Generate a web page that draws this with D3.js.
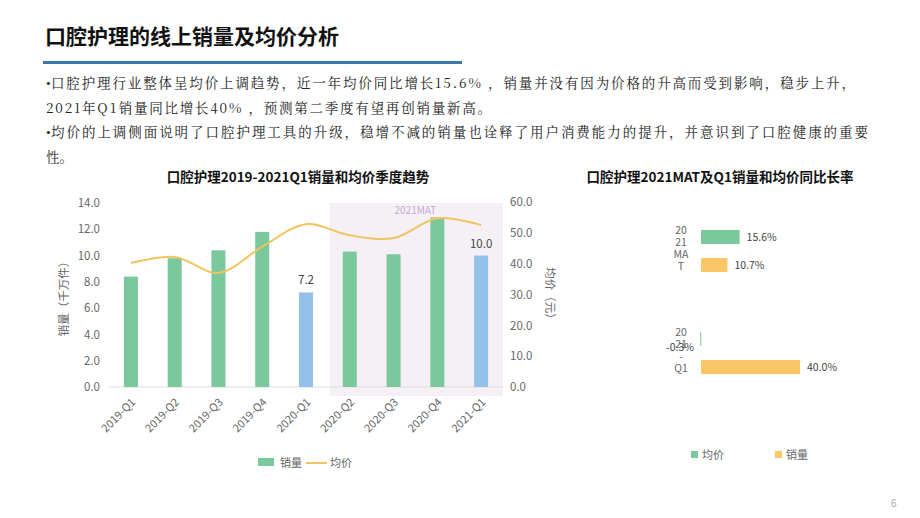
<!DOCTYPE html>
<html><head><meta charset="utf-8">
<script src="https://cdn.jsdelivr.net/npm/d3@7"></script>
<style>body{margin:0;background:#fff;font-family:"Noto Sans CJK SC",sans-serif;}</style>
</head><body><div id="container"></div>
<script>
/* DATA */
const quarters = ["2019-Q1","2019-Q2","2019-Q3","2019-Q4","2020-Q1","2020-Q2","2020-Q3","2020-Q4","2021-Q1"];
const sales = [8.4, 9.8, 10.4, 11.8, 7.2, 10.3, 10.1, 12.9, 10.0];
const price = [40.2, 42.2, 37.0, 45.5, 52.8, 49.2, 48.3, 54.7, 52.5];
const highlighted = ["2020-Q1","2021-Q1"];
const salesTicks = [0, 2, 4, 6, 8, 10, 12, 14];
const priceTicks = [0, 10, 20, 30, 40, 50, 60];
const rateCats = [["20","21","MA","T"], ["20","21","-","Q1"]];
const ratePrice = [15.6, -0.3];
const rateSales = [10.7, 40.0];
const bullets = [
  ["口腔护理行业整体呈均价上调趋势，近一年均价同比增长15.6% ，销量并没有因为价格的升高而受到影响，稳步上升，",
   "2021年Q1销量同比增长40% ，预测第二季度有望再创销量新高。"],
  ["均价的上调侧面说明了口腔护理工具的升级，稳增不减的销量也诠释了用户消费能力的提升，并意识到了口腔健康的重要",
   "性。"]
];
const bulletWidths = [[804, 445], [817, null]];

const width = 920, height = 518;
const green = "#7ac89b", blue = "#94c1ea", orange = "#fbc766", lineCol = "#f2c45e", grey = "#666";

const svg = d3.select("#container").append("svg").attr("width", width).attr("height", height);

// HEADER
svg.append("text").attr("x", 45).attr("y", 44).attr("font-size", 21).attr("font-weight", "bold")
  .attr("fill", "#111").text("口腔护理的线上销量及均价分析");
svg.append("rect").attr("x", 43).attr("y", 61).attr("width", 419).attr("height", 3).attr("fill", "#3d77a8");
let ly = 88;
bullets.forEach((b, bi) => {
  b.forEach((line, i) => {
    if (i === 0) svg.append("text").attr("x", 46).attr("y", ly).attr("font-size", 13.5).attr("fill", "#222")
      .attr("font-family", "'Liberation Serif',serif").text("•");
    const t = svg.append("text").attr("x", i === 0 ? 51 : 46).attr("y", ly).attr("font-size", 13.5).attr("fill", "#222")
      .attr("font-family", "'Noto Serif CJK SC','Noto Sans CJK SC',serif").text(line);
    if (bulletWidths[bi][i]) t.attr("textLength", bulletWidths[bi][i]).attr("lengthAdjust", "spacing");
    ly += 24.5;
  });
});
svg.append("text").attr("x", 891).attr("y", 507).attr("font-size", 10).attr("fill", "#aaa").text("6");

// LEFT CHART
svg.append("text").attr("x", 298).attr("y", 182).attr("text-anchor", "middle").attr("font-size", 13.5)
  .attr("font-weight", "bold").attr("fill", "#111").text("口腔护理2019-2021Q1销量和均价季度趋势");

const x = d3.scaleBand().domain(quarters).range([109, 503]).paddingInner(0.68).paddingOuter(0.34);
const yL = d3.scaleLinear().domain([0, 14]).range([387, 203]);
const yR = d3.scaleLinear().domain([0, 60]).range([387, 202]);

// MAT shade
svg.append("rect").attr("x", x("2020-Q2") - 13).attr("y", 203)
  .attr("width", x("2021-Q1") + x.bandwidth() + 15 - (x("2020-Q2") - 13)).attr("height", 193)
  .attr("fill", "#f4f0f6");
svg.append("text").attr("x", (x("2020-Q2") + x("2021-Q1") + x.bandwidth()) / 2).attr("y", 214)
  .attr("text-anchor", "middle").attr("font-size", 10).attr("fill", "#c9a9d3").text("2021MAT");

svg.append("line").attr("x1", 109).attr("x2", 503).attr("y1", yL(0)).attr("y2", yL(0)).attr("stroke", "#ddd");

svg.selectAll(".bar").data(quarters).join("rect")
  .attr("x", d => x(d)).attr("width", x.bandwidth())
  .attr("y", (d, i) => yL(sales[i])).attr("height", (d, i) => yL(0) - yL(sales[i]))
  .attr("fill", d => highlighted.includes(d) ? blue : green);

svg.selectAll(".lbl").data(quarters.filter(d => highlighted.includes(d))).join("text")
  .attr("x", d => x(d) + x.bandwidth() / 2).attr("y", d => yL(sales[quarters.indexOf(d)]) - 8)
  .attr("text-anchor", "middle").attr("font-size", 11.5).attr("fill", "#444")
  .text(d => sales[quarters.indexOf(d)].toFixed(1));

const lineGen = d3.line().curve(d3.curveCatmullRom)
  .x((d, i) => x(quarters[i]) + x.bandwidth() / 2).y(d => yR(d));
svg.append("path").attr("d", lineGen(price)).attr("fill", "none").attr("stroke", lineCol).attr("stroke-width", 2);

const axL = svg.append("g").attr("transform", "translate(104,0)")
  .call(d3.axisLeft(yL).tickValues(salesTicks).tickFormat(d3.format(".1f")).tickSize(0).tickPadding(4));
const axR = svg.append("g").attr("transform", "translate(508,0)")
  .call(d3.axisRight(yR).tickValues(priceTicks).tickFormat(d3.format(".1f")).tickSize(0).tickPadding(2));
[axL, axR].forEach(a => {
  a.select(".domain").remove();
  a.selectAll("text").attr("font-size", 11.5).attr("fill", grey).attr("font-family", "'Noto Sans CJK SC'");
});
const axB = svg.append("g").attr("transform", `translate(0,${yL(0) + 6})`)
  .call(d3.axisBottom(x).tickSize(0));
axB.select(".domain").remove();
axB.selectAll("text").attr("font-size", 11).attr("fill", grey).attr("text-anchor", "end")
  .attr("transform", "rotate(-45)").attr("dx", "-0.3em").attr("dy", "0.7em")
  .attr("font-family", "'Noto Sans CJK SC'");

svg.append("text").attr("transform", "translate(68,296) rotate(-90)").attr("text-anchor", "middle")
  .attr("font-size", 11.5).attr("fill", grey).text("销量（千万件）");
svg.append("text").attr("transform", "translate(546,296) rotate(90)").attr("text-anchor", "middle")
  .attr("font-size", 11.5).attr("fill", grey).text("均价（元）");

// left legend
svg.append("rect").attr("x", 258).attr("y", 458).attr("width", 16).attr("height", 8).attr("fill", green);
svg.append("text").attr("x", 280).attr("y", 467).attr("font-size", 11).attr("fill", grey).text("销量");
svg.append("line").attr("x1", 306).attr("x2", 327).attr("y1", 463).attr("y2", 463).attr("stroke", lineCol).attr("stroke-width", 2);
svg.append("text").attr("x", 330).attr("y", 467).attr("font-size", 11).attr("fill", grey).text("均价");

// RIGHT CHART
svg.append("text").attr("x", 720).attr("y", 182).attr("text-anchor", "middle").attr("font-size", 13.5)
  .attr("font-weight", "bold").attr("fill", "#111").text("口腔护理2021MAT及Q1销量和均价同比长率");

const xr = d3.scaleLinear().domain([0, 40]).range([701, 800]);
const rowY = [230, 332];
rateCats.forEach((cat, i) => {
  cat.forEach((t, j) => {
    svg.append("text").attr("x", 681).attr("y", rowY[i] + 4 + j * 12).attr("text-anchor", "middle")
      .attr("font-size", 10.5).attr("fill", grey).text(t);
  });
  const series = [[ratePrice[i], green, 0], [rateSales[i], orange, 28]];
  series.forEach(([v, c, off]) => {
    const x0 = xr(Math.min(0, v)), w = Math.max(Math.abs(xr(v) - xr(0)), 1);
    svg.append("rect").attr("x", x0).attr("y", rowY[i] + off).attr("width", w).attr("height", 14).attr("fill", c);
    svg.append("text").attr("x", v >= 0 ? xr(v) + 7 : xr(0) - 35).attr("y", rowY[i] + off + (v >= 0 ? 11 : 19))
      .attr("font-size", 10.5).attr("fill", "#444").text(v.toFixed(1) + "%");
  });
});
svg.append("rect").attr("x", 691).attr("y", 451).attr("width", 7).attr("height", 7).attr("fill", green);
svg.append("text").attr("x", 702).attr("y", 459).attr("font-size", 11).attr("fill", grey).text("均价");
svg.append("rect").attr("x", 775).attr("y", 451).attr("width", 7).attr("height", 7).attr("fill", orange);
svg.append("text").attr("x", 786).attr("y", 459).attr("font-size", 11).attr("fill", grey).text("销量");
</script></body></html>
